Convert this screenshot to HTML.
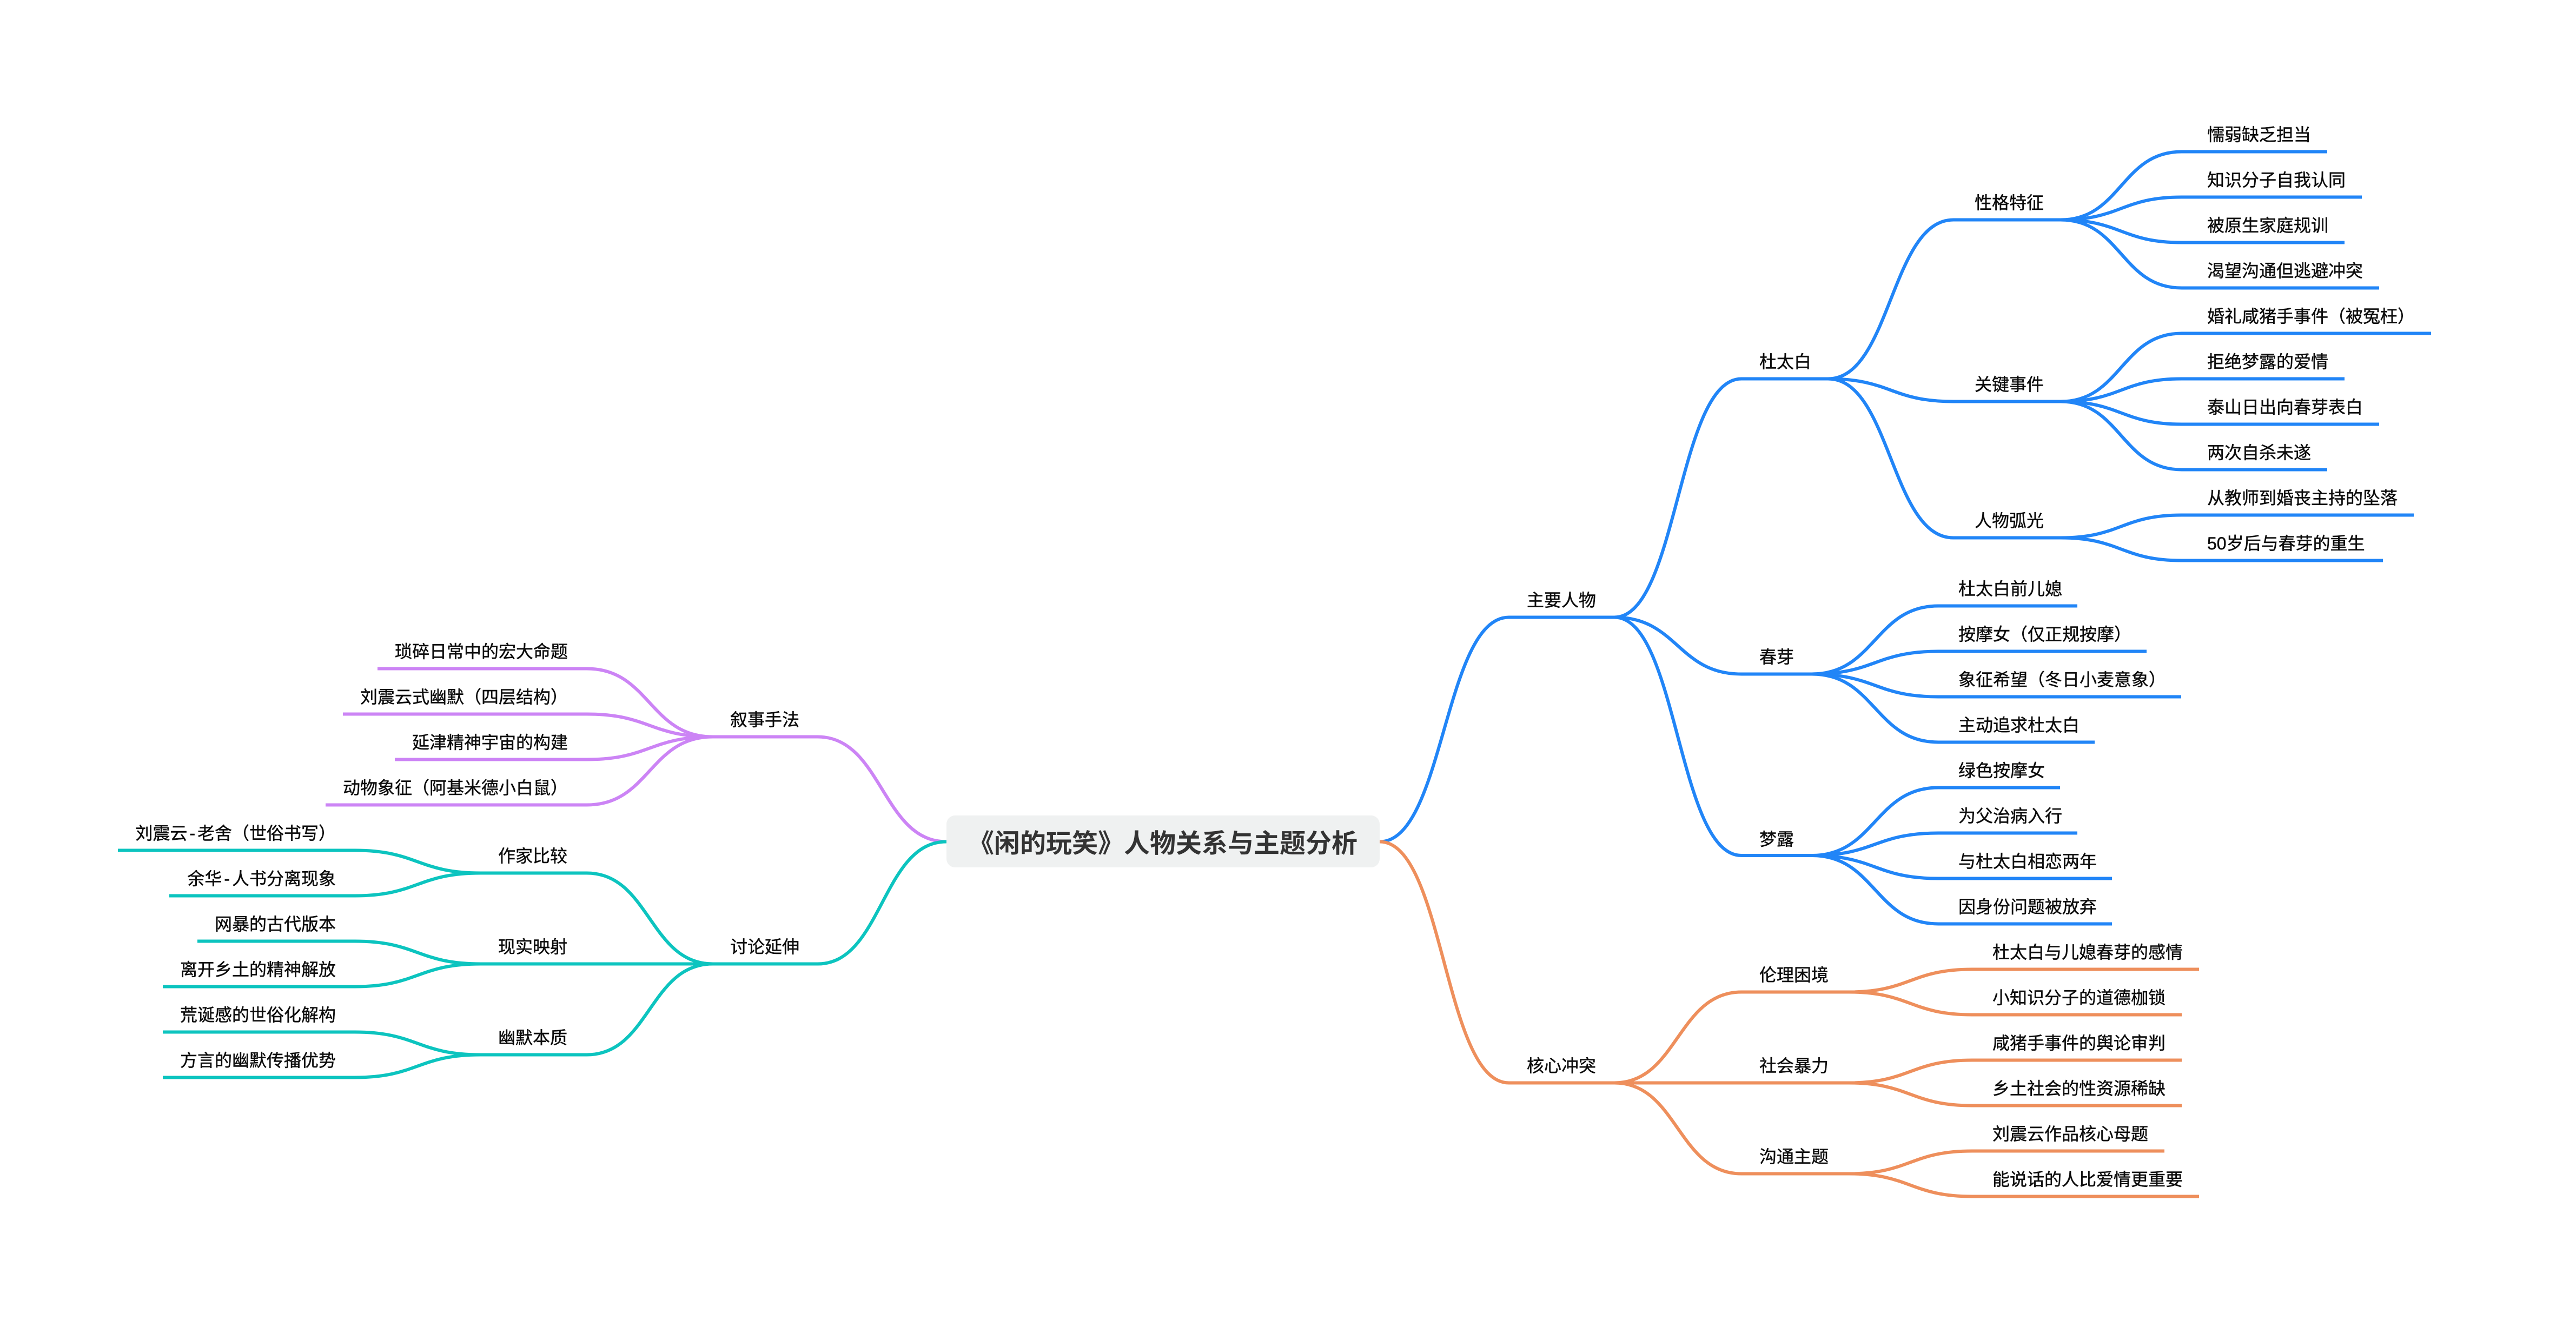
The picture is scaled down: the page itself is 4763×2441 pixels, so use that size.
<!DOCTYPE html>
<html lang="zh-CN">
<head>
<meta charset="utf-8">
<style>
html,body{margin:0;padding:0;background:#fff;width:4763px;height:2441px;overflow:hidden}
svg{display:block}
text{font-family:"Liberation Sans","Noto Sans CJK SC",sans-serif;font-size:32px;fill:#0c0c0c;stroke:#0c0c0c;stroke-width:.45px}
.e{text-anchor:end}
.root{font-size:48px;font-weight:700;fill:#333;stroke:none}
path{fill:none;stroke-width:6}
.b path{stroke:#2185f7}
.o path{stroke:#ee8f5c}
.t path{stroke:#0cc4bf}
.p path{stroke:#cc84f5}
</style>
</head>
<body>
<svg xmlns="http://www.w3.org/2000/svg" width="4763" height="2441" viewBox="0 0 4763 2441">
<rect width="4763" height="2441" fill="#fff"/>
<g class="b" transform="translate(0 .5)">
<path d="M2551 1556C2670 1556 2670 1141 2790 1141H2985"/>
<path d="M2985 1141C3102 1141 3102 700 3220 700H3380"/>
<path d="M2985 1141C3102 1141 3102 1246 3220 1246H3350"/>
<path d="M2985 1141C3102 1141 3102 1581.5 3220 1581.5H3350"/>
<path d="M3380 700C3496 700 3496 406 3612 406H3810"/>
<path d="M3380 700C3496 700 3496 742 3612 742H3810"/>
<path d="M3380 700C3496 700 3496 994 3612 994H3810"/>
<path d="M3810 406C3922 406 3922 280 4034 280H4303"/>
<path d="M3810 406C3922 406 3922 364 4034 364H4367"/>
<path d="M3810 406C3922 406 3922 448 4034 448H4335"/>
<path d="M3810 406C3922 406 3922 532 4034 532H4399"/>
<path d="M3810 742C3922 742 3922 616 4034 616H4495"/>
<path d="M3810 742C3922 742 3922 700 4034 700H4335"/>
<path d="M3810 742C3922 742 3922 784 4034 784H4399"/>
<path d="M3810 742C3922 742 3922 868 4034 868H4303"/>
<path d="M3810 994C3922 994 3922 952 4034 952H4463"/>
<path d="M3810 994C3922 994 3922 1036 4034 1036H4406"/>
<path d="M3350 1246C3467 1246 3467 1120 3584 1120H3841"/>
<path d="M3350 1246C3467 1246 3467 1204 3584 1204H3969"/>
<path d="M3350 1246C3467 1246 3467 1288 3584 1288H4033"/>
<path d="M3350 1246C3467 1246 3467 1372 3584 1372H3873"/>
<path d="M3350 1581.5C3467 1581.5 3467 1456 3584 1456H3809"/>
<path d="M3350 1581.5C3467 1581.5 3467 1540 3584 1540H3841"/>
<path d="M3350 1581.5C3467 1581.5 3467 1624 3584 1624H3905"/>
<path d="M3350 1581.5C3467 1581.5 3467 1708 3584 1708H3905"/>
</g>
<g class="o" transform="translate(0 .5)">
<path d="M2551 1556C2670 1556 2670 2002 2790 2002H2985"/>
<path d="M2985 2002C3102 2002 3102 1834 3220 1834H3418"/>
<path d="M2985 2002C3102 2002 3102 2002 3220 2002H3418"/>
<path d="M2985 2002C3102 2002 3102 2170 3220 2170H3418"/>
<path d="M3418 1834C3532 1834 3532 1792 3647 1792H4066"/>
<path d="M3418 1834C3532 1834 3532 1876 3647 1876H4034"/>
<path d="M3418 2002C3532 2002 3532 1960 3647 1960H4034"/>
<path d="M3418 2002C3532 2002 3532 2044 3647 2044H4034"/>
<path d="M3418 2170C3532 2170 3532 2128 3647 2128H4002"/>
<path d="M3418 2170C3532 2170 3532 2212 3647 2212H4066"/>
</g>
<g class="p" transform="translate(0 .5)">
<path d="M1750 1556C1631 1556 1631 1362 1512 1362H1318"/>
<path d="M1318 1362C1201 1362 1201 1236 1085 1236H698"/>
<path d="M1318 1362C1201 1362 1201 1320 1085 1320H634"/>
<path d="M1318 1362C1201 1362 1201 1404 1085 1404H730"/>
<path d="M1318 1362C1201 1362 1201 1488 1085 1488H602"/>
</g>
<g class="t" transform="translate(0 .5)">
<path d="M1750 1556C1631 1556 1631 1782 1512 1782H1318"/>
<path d="M1318 1782C1201 1782 1201 1614 1085 1614H889"/>
<path d="M1318 1782C1201 1782 1201 1782 1085 1782H889"/>
<path d="M1318 1782C1201 1782 1201 1950 1085 1950H889"/>
<path d="M889 1614C772 1614 772 1572 656 1572H218"/>
<path d="M889 1614C772 1614 772 1656 656 1656H313"/>
<path d="M889 1782C772 1782 772 1740 656 1740H365"/>
<path d="M889 1782C772 1782 772 1824 656 1824H301"/>
<path d="M889 1950C772 1950 772 1908 656 1908H301"/>
<path d="M889 1950C772 1950 772 1992 656 1992H301"/>
</g>
<rect x="1750" y="1508" width="801" height="96" rx="16" fill="#eff1f1"/>
<text class="root" x="1790" y="1576">《闲的玩笑》人物关系与主题分析</text>

<text x="2823" y="1121">主要人物</text>
<text x="3253" y="680">杜太白</text>
<text x="3253" y="1226">春芽</text>
<text x="3253" y="1563">梦露</text>
<text x="3651" y="386">性格特征</text>
<text x="3651" y="722">关键事件</text>
<text x="3651" y="974">人物弧光</text>
<text x="4081" y="260">懦弱缺乏担当</text>
<text x="4081" y="344">知识分子自我认同</text>
<text x="4081" y="428">被原生家庭规训</text>
<text x="4081" y="512">渴望沟通但逃避冲突</text>
<text x="4081" y="596">婚礼咸猪手事件（被冤枉）</text>
<text x="4081" y="680">拒绝梦露的爱情</text>
<text x="4081" y="764">泰山日出向春芽表白</text>
<text x="4081" y="848">两次自杀未遂</text>
<text x="4081" y="932">从教师到婚丧主持的坠落</text>
<text x="4081" y="1016">50岁后与春芽的重生</text>
<text x="3621" y="1100">杜太白前儿媳</text>
<text x="3621" y="1184">按摩女（仅正规按摩）</text>
<text x="3621" y="1268">象征希望（冬日小麦意象）</text>
<text x="3621" y="1352">主动追求杜太白</text>
<text x="3621" y="1436">绿色按摩女</text>
<text x="3621" y="1520">为父治病入行</text>
<text x="3621" y="1604">与杜太白相恋两年</text>
<text x="3621" y="1688">因身份问题被放弃</text>

<text x="2823" y="1982">核心冲突</text>
<text x="3253" y="1814">伦理困境</text>
<text x="3253" y="1982">社会暴力</text>
<text x="3253" y="2150">沟通主题</text>
<text x="3684" y="1772">杜太白与儿媳春芽的感情</text>
<text x="3684" y="1856">小知识分子的道德枷锁</text>
<text x="3684" y="1940">咸猪手事件的舆论审判</text>
<text x="3684" y="2024">乡土社会的性资源稀缺</text>
<text x="3684" y="2108">刘震云作品核心母题</text>
<text x="3684" y="2192">能说话的人比爱情更重要</text>

<text x="1350" y="1342">叙事手法</text>
<text x="1350" y="1762">讨论延伸</text>
<text class="e" x="1050" y="1216">琐碎日常中的宏大命题</text>
<text class="e" x="1050" y="1300">刘震云式幽默（四层结构）</text>
<text class="e" x="1050" y="1384">延津精神宇宙的构建</text>
<text class="e" x="1050" y="1468">动物象征（阿基米德小白鼠）</text>
<text x="921" y="1594">作家比较</text>
<text x="921" y="1762">现实映射</text>
<text x="921" y="1930">幽默本质</text>
<text class="e" x="621" y="1552">刘震云<tspan dx="4">-</tspan><tspan dx="4">老舍（世俗书写）</tspan></text>
<text class="e" x="621" y="1636">余华<tspan dx="4">-</tspan><tspan dx="4">人书分离现象</tspan></text>
<text class="e" x="621" y="1720">网暴的古代版本</text>
<text class="e" x="621" y="1804">离开乡土的精神解放</text>
<text class="e" x="621" y="1888">荒诞感的世俗化解构</text>
<text class="e" x="621" y="1972">方言的幽默传播优势</text>
</svg>
</body>
</html>
